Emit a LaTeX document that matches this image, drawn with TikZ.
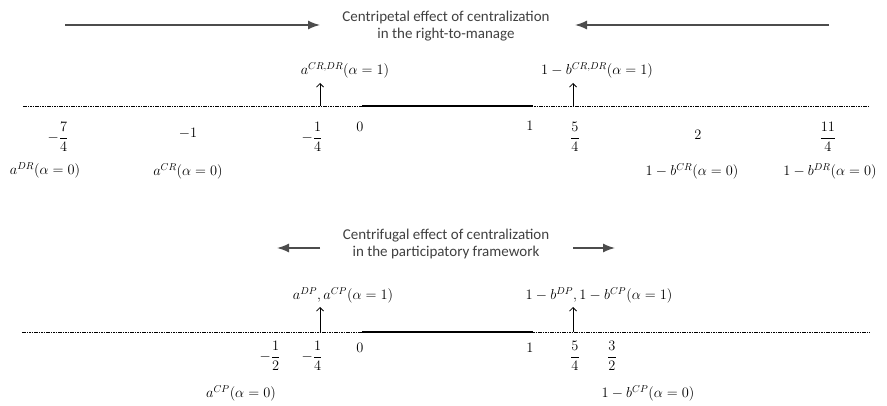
\documentclass[tikz,border=0pt]{standalone}
\usepackage{amsmath}
\usepackage{fontspec}
\newfontfamily\captionfont{Carlito}
\usetikzlibrary{arrows.meta}

\begin{document}
\begin{tikzpicture}[x=1pt,y=-1pt,
  effect/.style={-{Latex[length=12pt,width=9pt]}, line width=1.4pt, black!70},
  dotline/.style={dash pattern=on 1.6pt off 0.8pt, line width=0.8pt},
  segline/.style={line width=2pt},
  uparrow/.style={-{Straight Barb[length=3.5pt,width=7pt]}, line width=0.8pt},
  effectlabel/.style={font=\captionfont\fontsize{15}{17.5}\selectfont, text=black!75, align=center},
  val/.style={font=\fontsize{14}{16}\selectfont, inner sep=1pt}]
  \useasboundingbox (0,0) rectangle (887,406);
  % Right-to-manage: centripetal effect
  \node[effectlabel] (rtm) at (446,26) {Centripetal effect of centralization\\in the right-to-manage};
  \coordinate (rtmL1) at (65,25);  \coordinate (rtmL2) at (320,25);
  \coordinate (rtmR1) at (829,25); \coordinate (rtmR2) at (575,25);
  \draw[effect] (rtmL1) -- (rtmL2);
  \draw[effect] (rtmR1) -- (rtmR2);
  % Upper line
  \coordinate (uL) at (23,106);  \coordinate (uR) at (870,106);
  \coordinate (u0) at (362,106); \coordinate (u1) at (533,106);
  \draw[dotline] (uL) -- (uR);
  \draw[segline] (u0) -- (u1);
  \foreach \x/\y/\lab/\nm in {58/137/-\dfrac{7}{4}/tA, 188/133/-1/tB, 312/137/-\dfrac{1}{4}/tC,
      360/127/0/tD, 530/126/1/tE, 575/137/\dfrac{5}{4}/tF, 698/135/2/tG, 828/137/\dfrac{11}{4}/tH} {
    \node[val] (\nm) at (\x,\y) {$\lab$};
  }
  \node[val] (aDR0) at (45,170) {$a^{DR}(\alpha=0)$};
  \node[val] (aCR0) at (188,171) {$a^{CR}(\alpha=0)$};
  \node[val] (bCR0) at (692,171) {$1-b^{CR}(\alpha=0)$};
  \node[val] (bDR0) at (830,171) {$1-b^{DR}(\alpha=0)$};
  \node[val] (aR1) at (345,70) {$a^{CR,DR}(\alpha=1)$};
  \node[val] (bR1) at (597,70) {$1-b^{CR,DR}(\alpha=1)$};
  \coordinate (aRfoot) at (320,106); \coordinate (aRtip) at (320,83);
  \coordinate (bRfoot) at (573,106); \coordinate (bRtip) at (573,83);
  \draw[uparrow] (aRfoot) -- (aRtip);
  \draw[uparrow] (bRfoot) -- (bRtip);

  % Participatory framework: centrifugal effect
  \node[effectlabel] (part) at (446,244) {Centrifugal effect of centralization\\in the participatory framework};
  \coordinate (partL1) at (320,248); \coordinate (partL2) at (277,248);
  \coordinate (partR1) at (573,248); \coordinate (partR2) at (615,248);
  \draw[effect] (partL1) -- (partL2);
  \draw[effect] (partR1) -- (partR2);
  % Lower line
  \coordinate (lL) at (22,332);  \coordinate (lR) at (870,332);
  \coordinate (l0) at (362,332); \coordinate (l1) at (533,332);
  \draw[dotline] (lL) -- (lR);
  \draw[segline] (l0) -- (l1);
  \foreach \x/\y/\lab/\nm in {270/356/-\dfrac{1}{2}/bA, 312/356/-\dfrac{1}{4}/bB, 360/348/0/bC,
      530/348/1/bD, 575/356/\dfrac{5}{4}/bE, 612/356/\dfrac{3}{2}/bF} {
    \node[val] (\nm) at (\x,\y) {$\lab$};
  }
  \node[val] (aCP0) at (241,393) {$a^{CP}(\alpha=0)$};
  \node[val] (bCP0) at (648,393) {$1-b^{CP}(\alpha=0)$};
  \node[val] (aP1) at (343,295) {$a^{DP},a^{CP}(\alpha=1)$};
  \node[val] (bP1) at (599,295) {$1-b^{DP},1-b^{CP}(\alpha=1)$};
  \coordinate (aPfoot) at (320,332); \coordinate (aPtip) at (320,307);
  \coordinate (bPfoot) at (573,332); \coordinate (bPtip) at (573,307);
  \draw[uparrow] (aPfoot) -- (aPtip);
  \draw[uparrow] (bPfoot) -- (bPtip);
\end{tikzpicture}
\end{document}
